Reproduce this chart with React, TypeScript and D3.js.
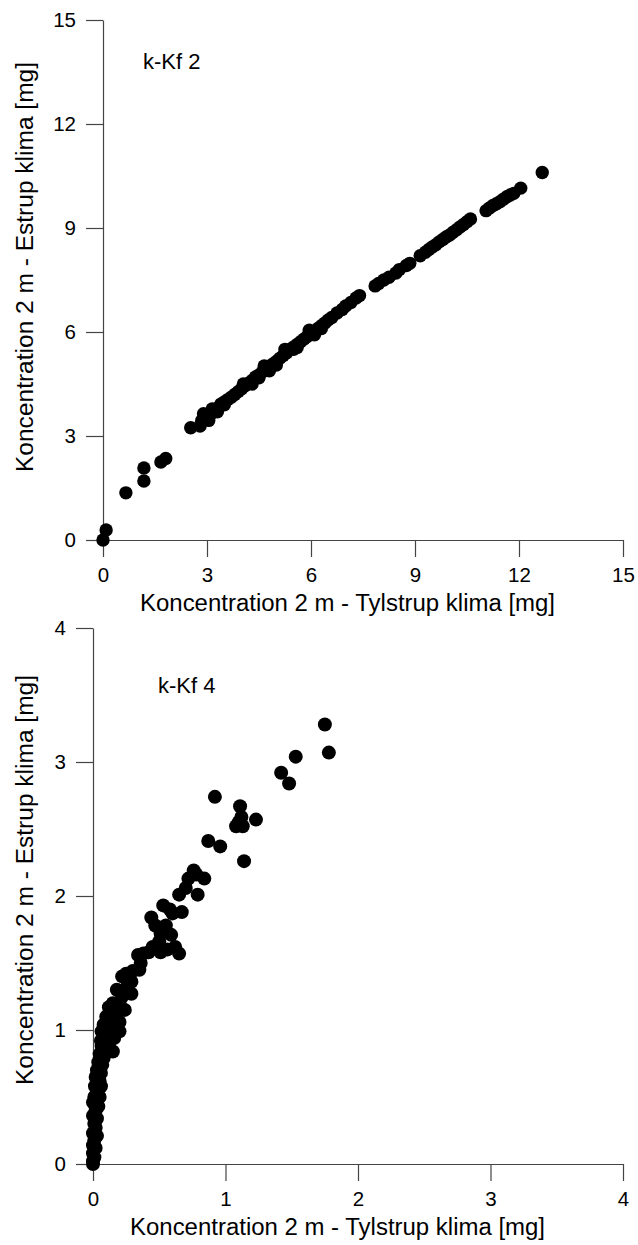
import React, { useEffect, useRef } from "react";
import * as d3 from "d3";

const topLabel = "k-Kf 2";
const bottomLabel = "k-Kf 4";
const xTitle = "Koncentration 2 m - Tylstrup klima [mg]";
const yTitle = "Koncentration 2 m - Estrup klima [mg]";
const topTicks = [0, 3, 6, 9, 12, 15];
const bottomTicks = [0, 1, 2, 3, 4];

const topX = [0, 0.09, 0.66, 1.18, 1.18, 1.67, 1.81, 2.53, 2.8, 2.85, 3.0, 3.05, 3.1, 3.2, 3.3, 3.3, 3.4, 3.5, 3.6, 3.7, 3.8, 3.9, 4.0, 4.1, 4.2, 4.3, 4.4, 4.5, 4.5, 4.6, 4.7, 4.8, 4.9, 5.0, 5.1, 5.2, 5.3, 5.4, 5.5, 5.5, 5.6, 5.7, 5.8, 5.9, 6.0, 6.1, 6.1, 6.2, 6.3, 6.4, 6.5, 6.6, 6.75, 6.9, 7.0, 7.15, 7.3, 7.4, 7.85, 7.95, 8.1, 8.25, 8.45, 8.55, 8.75, 8.85, 9.15, 9.3, 9.4, 9.5, 9.6, 9.7, 9.8, 9.9, 10.0, 10.1, 10.2, 10.3, 10.4, 10.5, 10.6, 11.05, 11.15, 11.25, 11.35, 11.45, 11.55, 11.65, 11.75, 11.85, 12.05, 12.67, 2.9, 3.5, 4.3, 4.8, 5.0, 5.6, 6.3, 3.15, 4.05, 4.65, 5.25, 5.95];
const topY = [0, 0.29, 1.36, 2.08, 1.7, 2.25, 2.35, 3.24, 3.29, 3.45, 3.55, 3.45, 3.62, 3.7, 3.8, 3.7, 3.92, 3.98, 4.05, 4.12, 4.2, 4.28, 4.36, 4.45, 4.52, 4.6, 4.7, 4.76, 4.68, 4.85, 4.93, 5.0, 5.08, 5.15, 5.24, 5.32, 5.4, 5.5, 5.57, 5.5, 5.64, 5.72, 5.8, 5.88, 5.95, 6.02, 5.92, 6.1, 6.18, 6.26, 6.35, 6.42, 6.55, 6.65, 6.75, 6.85, 6.98, 7.05, 7.33, 7.4, 7.5, 7.58, 7.7, 7.8, 7.92, 7.98, 8.2, 8.3, 8.38, 8.45, 8.52, 8.6, 8.67, 8.74, 8.8, 8.88, 8.95, 9.03, 9.1, 9.18, 9.26, 9.5, 9.58, 9.65, 9.7, 9.76, 9.83, 9.9, 9.95, 10.0, 10.15, 10.6, 3.64, 3.9, 4.5, 4.88, 5.05, 5.55, 6.1, 3.78, 4.5, 5.02, 5.5, 6.05];

const bottomX = [1.75, 1.78, 1.53, 1.42, 1.48, 0.92, 1.11, 1.23, 1.08, 1.13, 1.12, 1.1, 0.87, 0.96, 1.14, 0.76, 0.84, 0.72, 0.78, 0.65, 0.79, 0.7, 0.53, 0.67, 0.58, 0.44, 0.6, 0.51, 0.59, 0.55, 0.47, 0.5, 0.45, 0.51, 0.56, 0.42, 0.34, 0.38, 0.36, 0.35, 0.3, 0.25, 0.22, 0.29, 0.26, 0.18, 0.29, 0.22, 0.15, 0.2, 0.12, 0.24, 0.17, 0.1, 0.14, 0.2, 0.08, 0.18, 0.065, 0.12, 0.2, 0.09, 0.16, 0.06, 0.12, 0.065, 0.15, 0.1, 0.05, 0.08, 0.07, 0.04, 0.03, 0.06, 0.02, 0.05, 0.015, 0.06, 0.03, 0.01, 0.05, 0.0, 0.04, 0.02, 0.0, 0.03, 0.01, 0.02, 0.0, 0.03, 0.01, 0.0, 0.02, 0.0, 0.01, 0.0, 0.0, 0.65, 0.62];
const bottomY = [3.28, 3.07, 3.04, 2.92, 2.84, 2.74, 2.67, 2.57, 2.52, 2.52, 2.59, 2.55, 2.41, 2.37, 2.26, 2.19, 2.13, 2.13, 2.16, 2.01, 2.01, 2.06, 1.93, 1.88, 1.9, 1.84, 1.87, 1.72, 1.71, 1.78, 1.78, 1.66, 1.62, 1.58, 1.6, 1.58, 1.56, 1.57, 1.5, 1.45, 1.44, 1.42, 1.4, 1.36, 1.33, 1.3, 1.27, 1.25, 1.2, 1.2, 1.17, 1.15, 1.12, 1.1, 1.07, 1.06, 1.04, 1.02, 0.99, 0.98, 0.99, 0.95, 0.94, 0.92, 0.9, 0.88, 0.84, 0.85, 0.82, 0.79, 0.74, 0.76, 0.7, 0.68, 0.65, 0.62, 0.58, 0.58, 0.54, 0.5, 0.5, 0.46, 0.43, 0.4, 0.36, 0.34, 0.3, 0.27, 0.23, 0.21, 0.18, 0.14, 0.12, 0.08, 0.05, 0.02, 0.0, 1.57, 1.62];

const FONT = "'Liberation Sans', Arial, Helvetica, sans-serif";
const AXIS_COLOR = "#444";

type PanelProps = {
  xs: number[];
  ys: number[];
  ticks: number[];
  max: number;
  left: number;
  right: number;
  top: number;
  bottom: number;
  label: string;
  labelX: number;
  labelY: number;
  r: number;
  yTitleCenter: number;
};

function Panel(p: PanelProps) {
  const xRef = useRef<SVGGElement>(null);
  const yRef = useRef<SVGGElement>(null);
  const x = d3.scaleLinear().domain([0, p.max]).range([p.left, p.right]);
  const y = d3.scaleLinear().domain([0, p.max]).range([p.bottom, p.top]);

  useEffect(() => {
    const style = (g: d3.Selection<SVGGElement, unknown, null, undefined>) => {
      g.selectAll("path").attr("stroke", AXIS_COLOR).attr("stroke-width", 1.2);
      g.selectAll("line").attr("stroke", AXIS_COLOR).attr("stroke-width", 1.2);
      g.selectAll("text")
        .attr("fill", "#000")
        .style("font-family", FONT)
        .style("font-size", "20.5px");
    };
    if (xRef.current) {
      const g = d3.select(xRef.current);
      g.selectAll("*").remove();
      g.call(
        d3.axisBottom(x).tickValues(p.ticks).tickFormat(d3.format("d")).tickSizeInner(17).tickSizeOuter(0).tickPadding(10)
      );
      g.attr("font-family", null).attr("font-size", null);
      style(g);
    }
    if (yRef.current) {
      const g = d3.select(yRef.current);
      g.selectAll("*").remove();
      g.call(
        d3.axisLeft(y).tickValues(p.ticks).tickFormat(d3.format("d")).tickSizeInner(17).tickSizeOuter(0).tickPadding(10)
      );
      g.attr("font-family", null).attr("font-size", null);
      style(g);
    }
  });

  const pts = p.xs.map((v, i) => [v, p.ys[i]]);

  return (
    <g>
      <g ref={xRef} transform={`translate(0,${p.bottom})`} />
      <g ref={yRef} transform={`translate(${p.left},0)`} />
      {pts.map((d, i) => (
        <circle key={i} cx={x(d[0])} cy={y(d[1])} r={p.r} fill="#000" />
      ))}
      <text x={p.labelX} y={p.labelY} fontFamily={FONT} fontSize={22} fill="#000">
        {p.label}
      </text>
      <text
        x={p.left + 37}
        y={p.bottom + 71}
        fontFamily={FONT}
        fontSize={23}
        fill="#000"
        textLength={415}
        lengthAdjust="spacingAndGlyphs"
      >
        {xTitle}
      </text>
      <text
        transform={`translate(33,${p.yTitleCenter}) rotate(-90)`}
        textAnchor="middle"
        fontFamily={FONT}
        fontSize={23}
        fill="#000"
        textLength={410}
        lengthAdjust="spacingAndGlyphs"
      >
        {yTitle}
      </text>
    </g>
  );
}

export default function App() {
  return (
    <svg
      width={638}
      height={1245}
      style={{ position: "absolute", left: 0, top: 0, background: "#fff" }}
    >
      <rect width={638} height={1245} fill="#fff" />
      <Panel
        xs={topX}
        ys={topY}
        ticks={topTicks}
        max={15}
        left={103}
        right={623}
        top={20}
        bottom={540}
        label={topLabel}
        labelX={143}
        labelY={69}
        r={6.7}
        yTitleCenter={267}
      />
      <Panel
        xs={bottomX}
        ys={bottomY}
        ticks={bottomTicks}
        max={4}
        left={93}
        right={623}
        top={628}
        bottom={1164}
        label={bottomLabel}
        labelX={158}
        labelY={693}
        r={7}
        yTitleCenter={880}
      />
    </svg>
  );
}
